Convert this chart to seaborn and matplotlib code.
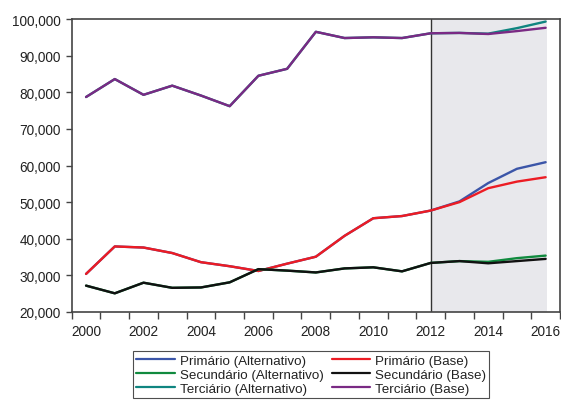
import matplotlib
matplotlib.use("Agg")
import matplotlib.pyplot as plt
import seaborn as sns
import pandas as pd
import numpy as np

years = list(range(2000, 2017))

primario_base = [30400, 37900, 37600, 36100, 33600, 32500, 31200, 33200, 35100,
                 40800, 45600, 46200, 47700, 50000, 53800, 55600, 56800]
primario_alt = primario_base[:13] + [50200, 55200, 59100, 60900]

secundario_base = [27200, 25100, 28000, 26600, 26700, 28100, 31700, 31300, 30800,
                   31900, 32200, 31100, 33400, 33900, 33300, 33900, 34500]
secundario_alt = secundario_base[:13] + [33900, 33700, 34700, 35400]

terciario_base = [78700, 83600, 79300, 81800, 79100, 76200, 84500, 86400, 96500,
                  94800, 95000, 94800, 96100, 96200, 95900, 96700, 97600]
terciario_alt = terciario_base[:13] + [96200, 96000, 97500, 99300]

series = {
    "Primário (Alternativo)": primario_alt,
    "Primário (Base)": primario_base,
    "Secundário (Alternativo)": secundario_alt,
    "Secundário (Base)": secundario_base,
    "Terciário (Alternativo)": terciario_alt,
    "Terciário (Base)": terciario_base,
}
colors = {
    "Primário (Alternativo)": "#3b55a8",
    "Primário (Base)": "#ec1c24",
    "Secundário (Alternativo)": "#108a3e",
    "Secundário (Base)": "#111111",
    "Terciário (Alternativo)": "#0f8580",
    "Terciário (Base)": "#7a2a84",
}
legend_order = ["Primário (Alternativo)", "Secundário (Alternativo)", "Terciário (Alternativo)",
                "Primário (Base)", "Secundário (Base)", "Terciário (Base)"]
forecast_start = 2012

df = pd.DataFrame([
    {"ano": y, "valor": v, "serie": name}
    for name, vals in series.items() for y, v in zip(years, vals)
])

sns.set_theme(style="white")
plt.rcParams["font.family"] = ["Liberation Sans", "DejaVu Sans"]

fig = plt.figure(figsize=(5.61, 4.02), dpi=100)
ax = fig.add_axes([71.7 / 561, 1 - 313 / 402, (560 - 71.7) / 561, (313 - 20) / 402])

ax.axvspan(forecast_start, 2016.05, color="#e8e8ec", lw=0, zorder=0)
ax.axvline(forecast_start, color="#333333", lw=1.0, zorder=1)

sns.lineplot(data=df, x="ano", y="valor", hue="serie", hue_order=list(series.keys()),
             palette=colors, linewidth=1.7, legend=False, ax=ax, zorder=3)

ax.set_xlim(1999.5, 2016.5)
ax.set_ylim(20000, 100000)
ax.set_xlabel("")
ax.set_ylabel("")

# year boundaries carry the tick marks, labels sit in the middle of each year
ax.set_xticks(np.arange(1999.5, 2017, 1.0), minor=True)
ax.set_xticks(range(2000, 2017, 2))
ax.set_xticklabels([str(y) for y in range(2000, 2017, 2)])
ax.tick_params(axis="x", which="major", length=0, pad=9, labelsize=9.8, colors="#222222")
ax.tick_params(axis="x", which="minor", bottom=True, length=5, width=1.0, color="#444444", direction="out")

ax.set_yticks(range(20000, 100001, 10000))
ax.set_yticklabels([f"{v:,}" for v in range(20000, 100001, 10000)])
ax.tick_params(axis="y", left=True, length=4, width=1.0, color="#444444", direction="out",
               pad=4, labelsize=9.8, labelcolor="#222222")

for s in ax.spines.values():
    s.set_color("#444444")
    s.set_linewidth(1.2)

handles = [plt.Line2D([], [], color=colors[n], lw=1.6) for n in legend_order]
leg = fig.legend(handles, legend_order, loc="upper left",
                 bbox_to_anchor=(133 / 561, 1 - 352 / 402), ncol=2,
                 frameon=True, fancybox=False, fontsize=9.6, handlelength=2.9,
                 handletextpad=0.35, columnspacing=0.6, labelspacing=0.12,
                 borderpad=0.25, borderaxespad=0)
leg.get_frame().set_edgecolor("#222222")
leg.get_frame().set_linewidth(0.8)
for t in leg.get_texts():
    t.set_color("#222222")

fig.savefig("out.png", dpi=100)
